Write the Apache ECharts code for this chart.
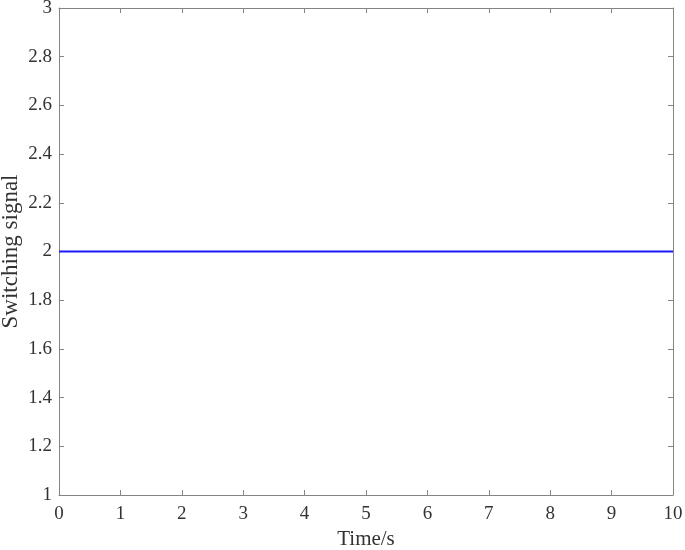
<!DOCTYPE html>
<html>
<head>
<meta charset="utf-8">
<script src="https://cdn.jsdelivr.net/npm/echarts@6/dist/echarts.min.js"></script>
<style>
html,body{margin:0;padding:0;background:#fff;}
#c{width:685px;height:550px;}
</style>
</head>
<body>
<div id="c"></div>
<script>
var timeValues = [0, 1, 2, 3, 4, 5, 6, 7, 8, 9, 10];
var signalValues = [2, 2, 2, 2, 2, 2, 2, 2, 2, 2, 2];
var xTicks = [0, 1, 2, 3, 4, 5, 6, 7, 8, 9, 10];
var yTicks = [1, 1.2, 1.4, 1.6, 1.8, 2, 2.2, 2.4, 2.6, 2.8, 3];

var font = 'Liberation Serif, Times New Roman, serif';
var axisColor = '#858585';
var textColor = '#333333';

var chart = echarts.init(document.getElementById('c'));
var data = timeValues.map(function (t, i) { return [t, signalValues[i]]; });

function xAxisCfg(primary) {
  return {
    type: 'value', min: xTicks[0], max: xTicks[xTicks.length - 1], interval: 1,
    position: primary ? 'bottom' : 'top',
    name: primary ? 'Time/s' : '', nameLocation: 'middle', nameGap: 34,
    nameMoveOverlap: false,
    nameTextStyle: { fontFamily: font, fontSize: 21, color: textColor },
    axisLine: { show: true, onZero: false, lineStyle: { color: axisColor, width: 1 } },
    axisTick: { show: true, inside: true, length: 5, lineStyle: { color: axisColor } },
    axisLabel: { show: primary, fontFamily: font, fontSize: 19, color: textColor, margin: 10 },
    splitLine: { show: false }
  };
}
function yAxisCfg(primary) {
  return {
    type: 'value', min: yTicks[0], max: yTicks[yTicks.length - 1], interval: 0.2,
    position: primary ? 'left' : 'right',
    name: primary ? 'Switching signal' : '', nameLocation: 'middle', nameGap: 37,
    nameMoveOverlap: false,
    nameTextStyle: { fontFamily: font, fontSize: 23, color: textColor },
    axisLine: { show: true, onZero: false, lineStyle: { color: axisColor, width: 1 } },
    axisTick: { show: true, inside: true, length: 5, lineStyle: { color: axisColor } },
    axisLabel: { show: primary, fontFamily: font, fontSize: 19, color: textColor, margin: 7,
      formatter: function (v) { return String(Math.round(v * 10) / 10); } },
    splitLine: { show: false }
  };
}

chart.setOption({
  animation: false,
  backgroundColor: '#ffffff',
  grid: { left: 59, right: 12, top: 8, bottom: 55, containLabel: false, outerBoundsMode: 'none' },
  xAxis: [xAxisCfg(true), xAxisCfg(false)],
  yAxis: [yAxisCfg(true), yAxisCfg(false)],
  series: [{
    type: 'line', xAxisIndex: 0, yAxisIndex: 0,
    data: data, showSymbol: false, symbol: 'none',
    lineStyle: { color: '#1a1aff', width: 2 }
  }]
});
</script>
</body>
</html>
